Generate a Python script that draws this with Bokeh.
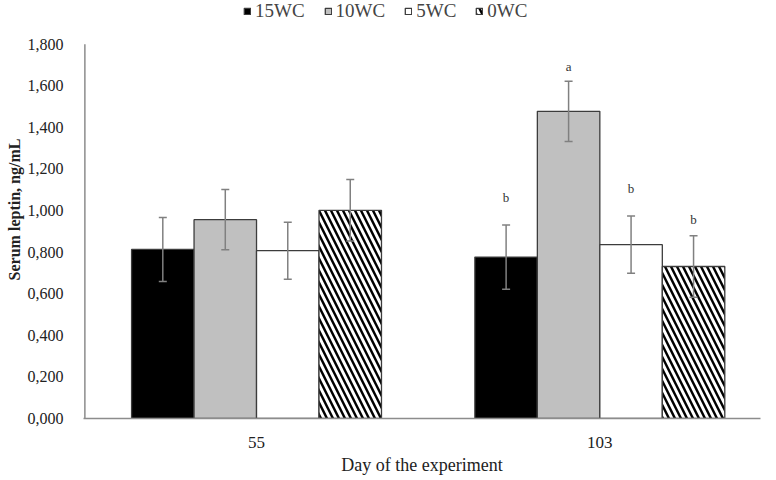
from bokeh.plotting import figure
from bokeh.models import (ColumnDataSource, Range1d, FixedTicker, Legend, LegendItem,
                          Whisker, TeeHead, CustomJSTickFormatter)
from bokeh.embed import file_html
from bokeh.resources import INLINE
from bokeh.core.properties import value

days = ["55", "103"]
groups = ["15WC", "10WC", "5WC", "0WC"]
mean_15 = [0.813, 0.776]
mean_10 = [0.956, 1.477]
mean_5 = [0.807, 0.836]
mean_0 = [1.001, 0.731]
err_15 = [0.154, 0.155]
err_10 = [0.145, 0.145]
err_5 = [0.137, 0.138]
err_0 = [0.148, 0.148]
letters_15 = ["", "b"]
letters_10 = ["", "a"]
letters_5 = ["", "b"]
letters_0 = ["", "b"]
y_ticks = [0.0, 0.2, 0.4, 0.6, 0.8, 1.0, 1.2, 1.4, 1.6, 1.8]

means = [mean_15, mean_10, mean_5, mean_0]
errs = [err_15, err_10, err_5, err_0]
letters = [letters_15, letters_10, letters_5, letters_0]
letter_lift = [27, 15, 27, 16]  # px above error bar

styles = [
    dict(fill_color="#000000", hatch_pattern=None),
    dict(fill_color="#c0c0c0", hatch_pattern=None),
    dict(fill_color="#ffffff", hatch_pattern=None),
    dict(fill_color="#ffffff", hatch_pattern="\\"),
]

SERIF = "Liberation Serif"
bw = 0.182
X0 = -0.5
Y_AXIS_TOP = y_ticks[-1]

# frame extends above the y-axis top to leave room for the legend
p = figure(width=772, height=478, output_backend="svg", toolbar_location=None,
           x_range=Range1d(X0 - 0.004, 1.468), y_range=Range1d(0, 2.01),
           min_border_left=83, min_border_right=12, min_border_bottom=60, min_border_top=0)
p.outline_line_color = None
p.grid.visible = False
p.background_fill_color = "white"

# y axis line only up to the last tick
p.segment(x0=[X0], y0=[0], x1=[X0], y1=[Y_AXIS_TOP], line_color="#8c8c8c", line_width=1.5)

items = []
xs = list(range(len(days)))
for i, g in enumerate(groups):
    off = (i - 1.5) * bw
    x = [xx + off for xx in xs]
    top = means[i]
    src = ColumnDataSource(dict(x=x, top=top,
                                upper=[m + e for m, e in zip(top, errs[i])],
                                lower=[m - e for m, e in zip(top, errs[i])],
                                lab=letters[i]))
    st = styles[i]
    kw = dict(x="x", top="top", width=bw, bottom=0, source=src,
              fill_color=st["fill_color"], line_color="#3c3c3c", line_width=1.3)
    if st["hatch_pattern"]:
        kw.update(hatch_pattern=st["hatch_pattern"], hatch_color="black",
                  hatch_scale=12, hatch_weight=2.4)
    r = p.vbar(**kw)
    items.append(LegendItem(label=g, renderers=[r]))
    w = Whisker(base="x", upper="upper", lower="lower", source=src, level="overlay",
                line_color="#808080", line_width=1.5,
                upper_head=TeeHead(size=8, line_color="#808080", line_width=1.5),
                lower_head=TeeHead(size=8, line_color="#808080", line_width=1.5))
    p.add_layout(w)
    p.text(x="x", y="upper", text="lab", source=src, text_align="center",
           text_baseline="middle", y_offset=-letter_lift[i],
           text_font=value(SERIF), text_font_size="13px", text_color="#333333")

legend = Legend(items=items, orientation="horizontal", location=(160, 396),
                label_text_font=SERIF, label_text_font_size="19px",
                glyph_width=8, glyph_height=8, spacing=19, label_standoff=4,
                padding=0, margin=0, border_line_color=None,
                background_fill_alpha=0)
p.add_layout(legend, "center")

p.xaxis.ticker = FixedTicker(ticks=xs)
p.xaxis.major_label_overrides = {i: d for i, d in enumerate(days)}
p.yaxis.ticker = FixedTicker(ticks=y_ticks)
p.yaxis.formatter = CustomJSTickFormatter(code="return tick.toFixed(3).replace('.', ',');")

for ax in (p.xaxis[0], p.yaxis[0]):
    ax.axis_line_color = "#8c8c8c"
    ax.axis_line_width = 1.5
    ax.major_tick_line_color = None
    ax.minor_tick_line_color = None
    ax.major_tick_out = 0
    ax.major_tick_in = 0
    ax.major_label_text_font = SERIF
    ax.major_label_text_color = "#222222"
    ax.axis_label_text_font = SERIF
    ax.axis_label_text_font_style = "normal"
    ax.axis_label_text_color = "#222222"
p.yaxis.axis_line_color = None

p.yaxis.major_label_text_font_size = "16px"
p.yaxis.major_label_standoff = 20
p.yaxis.axis_label = "Serum leptin, ng/mL"
p.yaxis.axis_label_text_font_size = "16px"
p.yaxis.axis_label_text_font_style = "bold"
p.yaxis.axis_label_standoff = 2

p.xaxis.major_label_text_font_size = "17px"
p.xaxis.major_label_standoff = 18
p.xaxis.axis_label = "Day of the experiment"
p.xaxis.axis_label_text_font_size = "18px"
p.xaxis.axis_label_standoff = 4

open("out.html", "w").write(file_html(p, INLINE))
